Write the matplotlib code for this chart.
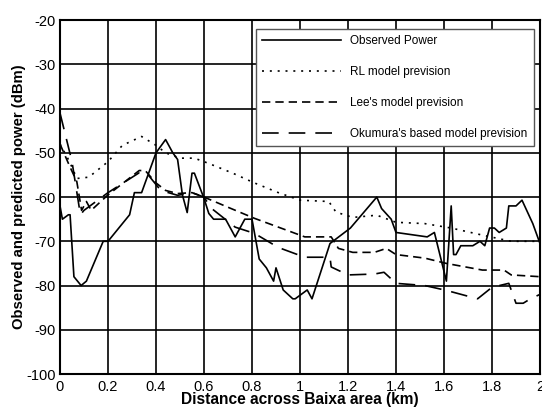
import matplotlib.pyplot as plt

plt.rcParams["font.family"] = ["Liberation Sans", "DejaVu Sans"]
plt.rcParams["axes.unicode_minus"] = False

# observed power (solid)
obs_x = [0.0, 0.01, 0.035, 0.042, 0.058, 0.088, 0.11, 0.18, 0.2, 0.29, 0.31, 0.34,
         0.40, 0.44, 0.47, 0.49, 0.51, 0.53, 0.55, 0.56, 0.60, 0.62, 0.64, 0.69,
         0.71, 0.73, 0.77, 0.80, 0.83, 0.86, 0.89, 0.90, 0.93, 0.97, 0.98, 1.03,
         1.05, 1.125, 1.21, 1.32, 1.34, 1.38, 1.40, 1.53, 1.56, 1.61, 1.63, 1.64,
         1.65, 1.67, 1.72, 1.75, 1.77, 1.79, 1.81, 1.83, 1.86, 1.87, 1.90, 1.925,
         1.97, 2.0]
obs_y = [-62, -65, -64, -64, -78, -80, -79, -70, -70, -64, -59, -59,
         -50, -47, -50, -51.5, -59.5, -63.5, -54.6, -54.6, -60.3, -63.7, -65, -65,
         -67, -69, -65, -65, -74, -76, -79, -76, -81, -83, -83, -81,
         -83, -70.5, -67, -60, -62.6, -65, -68, -69, -68, -79, -62, -73,
         -73, -71, -71, -70, -71, -67, -67, -68, -67, -62, -62, -60.7,
         -66, -70.5]

# RL model (dotted)
rl_x = [0.0, 0.04, 0.07, 0.12, 0.2, 0.26, 0.34, 0.40, 0.44, 0.50, 0.56, 0.62,
        0.72, 0.81, 0.91, 1.0, 1.12, 1.15, 1.22, 1.32, 1.40, 1.52, 1.63, 1.76,
        1.88, 2.0]
rl_y = [-48, -52, -55.8, -55.5, -52, -48.3, -46.3, -48.3, -50, -51.2, -51.2, -52.4,
        -54.6, -56.8, -59, -60.7, -61, -63.4, -64.6, -64.1, -65.7, -66, -67, -68.6,
        -70, -70]

# Lee's model (short dash)
lee_x = [0.0, 0.04, 0.07, 0.09, 0.11, 0.13, 0.2, 0.33, 0.355, 0.40, 0.44, 0.49,
         0.55, 0.60, 0.70, 0.81, 0.92, 1.02, 1.13, 1.16, 1.22, 1.31, 1.36, 1.40,
         1.52, 1.61, 1.65, 1.76, 1.85, 1.88, 2.0]
lee_y = [-48, -53, -56.5, -63, -61, -63, -59.5, -54, -54, -56.8, -58.5, -59.2,
         -59, -60, -62.3, -64.8, -67, -69, -69, -71.6, -72.5, -72.5, -71.6, -73,
         -73.8, -75, -75.4, -76.5, -76.5, -77.6, -78]

# Okumura's based model (long dash)
oku_x = [0.0, 0.05, 0.085, 0.1, 0.15, 0.2, 0.33, 0.36, 0.42, 0.49, 0.55, 0.60,
         0.63, 0.73, 0.81, 0.91, 1.02, 1.125, 1.13, 1.2, 1.31, 1.35, 1.40, 1.52,
         1.61, 1.74, 1.80, 1.87, 1.90, 1.93, 1.96, 2.0]
oku_y = [-41, -52, -64, -63, -61, -59, -54.5, -54.5, -58.5, -59.6, -59, -60,
         -62.5, -66.8, -68.2, -71.4, -73.6, -73.6, -75.8, -77.6, -77.4, -77, -79.5, -80,
         -81.1, -83, -80.4, -79.5, -84, -84, -83, -82]

fig = plt.figure(figsize=(5.42, 4.11), dpi=100)
ax = fig.add_axes([0.1107, 0.09, 0.8856, 0.861])

ax.plot(obs_x, obs_y, color="black", lw=1.2, label="Observed Power")
ax.plot(rl_x, rl_y, color="black", lw=1.2, linestyle=(0, (1.2, 3.5)), label="RL model prevision")
ax.plot(lee_x, lee_y, color="black", lw=1.2, linestyle=(0, (5, 3)), label="Lee's model prevision")
ax.plot(oku_x, oku_y, color="black", lw=1.2, linestyle=(0, (10, 6)), label="Okumura's based model prevision")

ax.set_xlim(0, 2)
ax.set_ylim(-100, -20)
ax.set_xticks([0, 0.2, 0.4, 0.6, 0.8, 1, 1.2, 1.4, 1.6, 1.8, 2])
ax.set_xticklabels(["0", "0.2", "0.4", "0.6", "0.8", "1", "1.2", "1.4", "1.6", "1.8", "2"])
ax.set_yticks(range(-100, -19, 10))
ax.tick_params(axis="x", length=0, labelsize=10.5, pad=4)
ax.tick_params(axis="y", length=0, labelsize=10.5, pad=3)
ax.grid(True, color="black", lw=1.2)
for s in ax.spines.values():
    s.set_linewidth(1.5)

ax.set_xlabel("Distance across Baixa area (km)", fontsize=11.2, fontweight="bold", labelpad=-1)
ax.set_ylabel("Observed and predicted power (dBm)", fontsize=10.7, fontweight="bold", labelpad=0)

leg = ax.legend(loc="upper right", bbox_to_anchor=(0.987, 0.976), fontsize=8.5,
                frameon=True, fancybox=False, shadow=False, edgecolor="#555555",
                framealpha=1, labelspacing=1.6, handlelength=6.7, handletextpad=0.75,
                borderpad=0.55, borderaxespad=0)
leg.get_frame().set_linewidth(1.0)

fig.savefig("out.png", dpi=100)
